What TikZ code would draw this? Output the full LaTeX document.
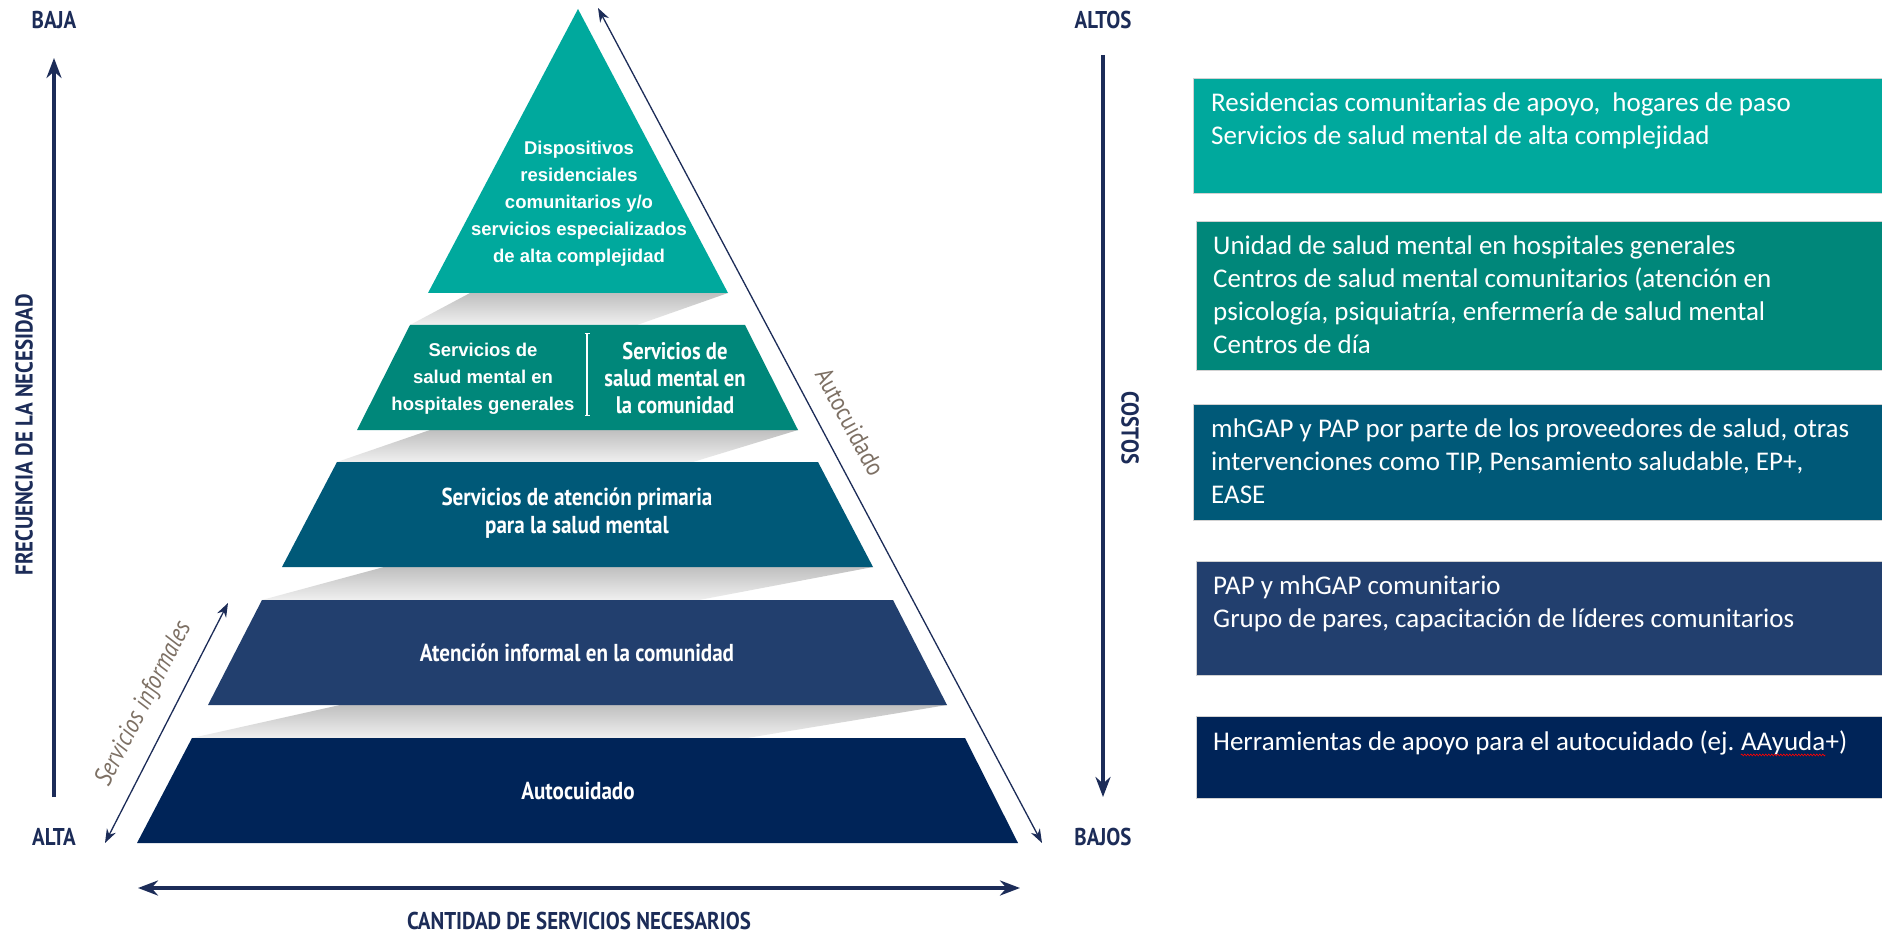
\documentclass[tikz,border=0pt]{standalone}
\usepackage{fontspec}
\usepackage{tikz}
\usetikzlibrary{arrows.meta,decorations.pathmorphing}
\setmainfont{Carlito}
\newfontfamily\arialfont{Liberation Sans}
\newfontfamily\condfont[FakeStretch=0.86]{PT Sans}
\definecolor{tierA}{RGB}{0,169,157}
\definecolor{tierB}{RGB}{0,135,122}
\definecolor{tierC}{RGB}{0,89,120}
\definecolor{tierD}{RGB}{34,63,110}
\definecolor{tierE}{RGB}{0,36,88}
\definecolor{navy}{RGB}{28,44,88}
\definecolor{taupe}{RGB}{125,112,100}

\begin{document}
\begin{tikzpicture}[x=1pt, y=-1pt,
  shadowband/.style={top color=gray!50, bottom color=gray!12, draw=none},
  pyrtext/.style={text=white, align=center, inner sep=0pt, font=\condfont\bfseries\fontsize{24.5}{28}\selectfont},
  pyrbold/.style={text=white, align=center, inner sep=0pt, font=\arialfont\bfseries\fontsize{18.5}{27}\selectfont},
  axislabel/.style={text=navy, inner sep=0pt, font=\condfont\bfseries\fontsize{24.3}{26}\selectfont},
  sidelabel/.style={text=taupe, inner sep=0pt, font=\condfont\fontsize{25.5}{28}\selectfont},
  axisarrow/.style={navy, line width=4pt, -{Stealth[length=20pt,width=15pt]}},
  thinarrow/.style={navy, line width=1.3pt, {Stealth[length=14pt,width=10pt]}-{Stealth[length=14pt,width=10pt]}},
  rbox/.style={draw=gray!35, line width=1pt, anchor=north west, minimum width=700pt, inner sep=0pt},
  rtext/.style={text=white, align=left, anchor=north west, inner sep=0pt, font=\fontsize{27}{33}\selectfont}]
\useasboundingbox (0,0) rectangle (1882,933);
\fill[white] (0,0) rectangle (1882,933);

\shade[shadowband] (470,293) -- (728,293) -- (637,325) -- (410,325) -- cycle;
\shade[shadowband] (430,430) -- (798,430) -- (693,462) -- (337,462) -- cycle;
\shade[shadowband] (384,567) -- (873,567) -- (699,600) -- (262,600) -- cycle;
\shade[shadowband] (340,705) -- (947,705) -- (747,738) -- (192,738) -- cycle;

\fill[tierA] (578,9) -- (728,293) -- (428,293) -- cycle;
\fill[tierB] (410,325) -- (745,325) -- (798,430) -- (357,430) -- cycle;
\fill[tierC] (337,462) -- (818,462) -- (873,567) -- (282,567) -- cycle;
\fill[tierD] (262,600) -- (893,600) -- (947,705) -- (208,705) -- cycle;
\fill[tierE] (192,738) -- (965,738) -- (1018,843) -- (137,843) -- cycle;

\node[pyrbold] (disp) at (579,204) {Dispositivos\\residenciales\\comunitarios y/o\\servicios especializados\\de alta complejidad};
\node[pyrbold] (hosp) at (483,379) {Servicios de\\salud mental en\\hospitales generales};
\node[pyrtext, font=\condfont\bfseries\fontsize{24}{27}\selectfont] (comu) at (675,378) {Servicios de\\salud mental en\\la comunidad};
\coordinate (divtop) at (587,333);
\coordinate (divbot) at (587,416);
\draw[white, line width=1.2pt, {Bar[width=5pt]}-{Bar[width=5pt]}] (divtop) -- (divbot);
\node[pyrtext] (prim) at (577,513) {Servicios de atención primaria\\para la salud mental};
\node[pyrtext] (info) at (577,653) {Atención informal en la comunidad};
\node[pyrtext] (auto) at (578,791) {Autocuidado};

\node[axislabel] (baja) at (54,20) {BAJA};
\node[axislabel] (alta) at (54,837) {ALTA};
\node[axislabel] (altos) at (1103,20) {ALTOS};
\node[axislabel] (bajos) at (1103,837) {BAJOS};
\node[axislabel, rotate=90] (frec) at (24,435) {FRECUENCIA DE LA NECESIDAD};
\node[axislabel, rotate=-90] (costos) at (1130,428) {COSTOS};
\node[axislabel] (cant) at (579,921) {CANTIDAD DE SERVICIOS NECESARIOS};

\coordinate (frecbot) at (54,797);
\coordinate (frectop) at (54,58);
\coordinate (costtop) at (1103,55);
\coordinate (costbot) at (1103,797);
\coordinate (cantl) at (138,888);
\coordinate (cantr) at (1020,888);
\coordinate (autobot) at (1042,843);
\coordinate (autotop) at (598,8);
\coordinate (infbot) at (105,843);
\coordinate (inftop) at (228,603);
\draw[axisarrow] (frecbot) -- (frectop);
\draw[axisarrow] (costtop) -- (costbot);
\draw[navy, line width=4pt, {Stealth[length=20pt,width=15pt]}-{Stealth[length=20pt,width=15pt]}] (cantl) -- (cantr);
\draw[thinarrow] (autobot) -- (autotop);
\draw[thinarrow] (infbot) -- (inftop);
\node[sidelabel, rotate=-61.6] (autolab) at (850,422) {Autocuidado};
\node[sidelabel, rotate=62.9, font=\condfont\itshape\fontsize{26}{28}\selectfont] (inflab) at (144,704) {Servicios informales};

\node[rbox, fill=tierA, minimum height=115pt] (boxA) at (1193,78) {};
\node[rbox, fill=tierB, minimum height=149pt] (boxB) at (1196,221) {};
\node[rbox, fill=tierC, minimum height=116pt] (boxC) at (1193,404) {};
\node[rbox, fill=tierD, minimum height=114pt] (boxD) at (1196,561) {};
\node[rbox, fill=tierE, minimum height=82pt] (boxE) at (1196,716) {};

\node[rtext] (txtA) at ([shift={(18,15)}]boxA.north west) {Residencias comunitarias de apoyo,\ \ hogares de paso\\Servicios de salud mental de alta complejidad};
\node[rtext] (txtB) at ([shift={(17,15)}]boxB.north west) {Unidad de salud mental en hospitales generales\\Centros de salud mental comunitarios (atención en\\psicología, psiquiatría, enfermería de salud mental\\Centros de día};
\node[rtext] (txtC) at ([shift={(18,15)}]boxC.north west) {mhGAP y PAP por parte de los proveedores de salud, otras\\intervenciones como TIP, Pensamiento saludable, EP+,\\EASE};
\node[rtext] (txtD) at ([shift={(17,15)}]boxD.north west) {PAP y mhGAP comunitario\\Grupo de pares, capacitación de líderes comunitarios};
\node[rtext] (txtE) at ([shift={(17,15)}]boxE.north west) {Herramientas de apoyo para el autocuidado (ej.\ };
\node[rtext, anchor=base west] (ayuda) at (txtE.base east) {AAyuda};
\node[rtext, anchor=base west] (txtEend) at (ayuda.base east) {+)};
\draw[red, line width=0.6pt, decorate, decoration={snake, amplitude=0.9pt, segment length=3pt}] ([shift={(0,4)}]ayuda.base west) -- ([shift={(0,4)}]ayuda.base east);
\end{tikzpicture}
\end{document}
